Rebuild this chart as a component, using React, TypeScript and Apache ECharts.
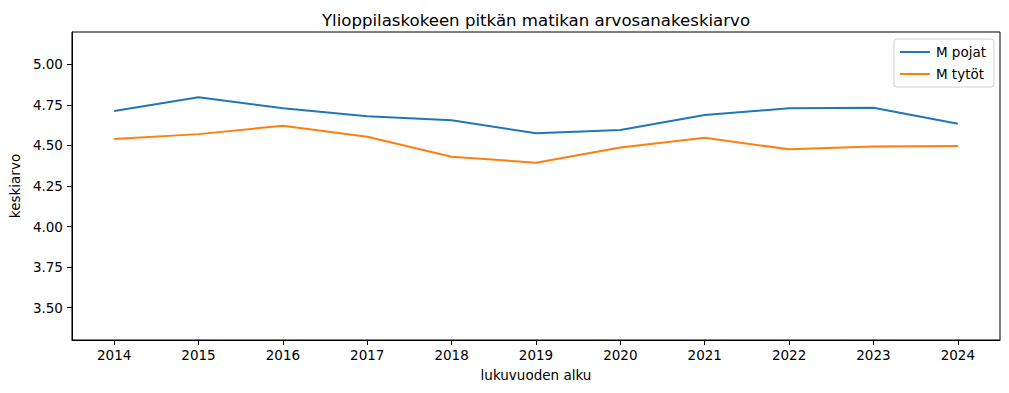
import React, { useEffect, useRef } from "react";
import * as echarts from "echarts";

const years = ["2014", "2015", "2016", "2017", "2018", "2019", "2020", "2021", "2022", "2023", "2024"];
const boys = [4.712, 4.797, 4.729, 4.681, 4.655, 4.575, 4.595, 4.688, 4.729, 4.733, 4.634];
const girls = [4.54, 4.57, 4.622, 4.554, 4.431, 4.394, 4.488, 4.548, 4.476, 4.493, 4.496];
const yTicks = [3.5, 3.75, 4.0, 4.25, 4.5, 4.75, 5.0];

const FONT = "DejaVu Sans";
const FS = 13.5;

export default function App() {
  const ref = useRef<HTMLDivElement>(null);
  useEffect(() => {
    const chart = echarts.init(ref.current!, null, { renderer: "svg" });
    chart.setOption({
      animation: false,
      backgroundColor: "#fff",
      textStyle: { fontFamily: FONT },
      title: {
        text: "Ylioppilaskokeen pitkän matikan arvosanakeskiarvo",
        left: 531,
        textAlign: "center",
        top: 7,
        textStyle: { fontFamily: FONT, fontSize: 16.6, fontWeight: "normal", color: "#000" },
      },
      legend: {
        orient: "vertical",
        right: 15,
        top: 39,
        padding: [6, 8, 6, 6],
        itemGap: 8,
        itemWidth: 30,
        itemHeight: 14,
        backgroundColor: "#fff",
        borderColor: "#d0d0d0",
        borderWidth: 1,
        borderRadius: 3,
        textStyle: { fontFamily: FONT, fontSize: FS, color: "#000", padding: [0, 0, 0, 1] },
        data: [
          { name: "M pojat", icon: "path://M0,0 L30,0 L30,2 L0,2 Z" },
          { name: "M tytöt", icon: "path://M0,0 L30,0 L30,2 L0,2 Z" },
        ],
      },
      grid: {
        left: 70,
        right: 9,
        top: 32,
        bottom: 53,
        show: true,
        borderColor: "#000",
        borderWidth: 1,
        backgroundColor: "transparent",
      },
      xAxis: {
        type: "category",
        data: years,
        boundaryGap: true,
        name: "lukuvuoden alku",
        nameLocation: "middle",
        nameGap: 28,
        nameTextStyle: { fontFamily: FONT, fontSize: FS, color: "#000" },
        axisLine: { show: true, lineStyle: { color: "#000", width: 1 } },
        axisTick: { show: true, alignWithLabel: true, length: 5, lineStyle: { color: "#000" } },
        axisLabel: { margin: 8, fontFamily: FONT, fontSize: FS, color: "#000" },
        splitLine: { show: false },
      },
      yAxis: {
        type: "value",
        min: 3.3,
        max: 5.2,
        name: "keskiarvo",
        nameLocation: "middle",
        nameGap: 48,
        nameTextStyle: { fontFamily: FONT, fontSize: FS, color: "#000" },
        axisLine: { show: true, lineStyle: { color: "#000", width: 1 } },
        axisTick: { show: true, length: 5, customValues: yTicks, lineStyle: { color: "#000" } },
        axisLabel: {
          margin: 9,
          fontFamily: FONT,
          fontSize: FS,
          color: "#000",
          customValues: yTicks,
          formatter: (v: number) => v.toFixed(2),
        },
        splitLine: { show: false },
      },
      series: [
        {
          name: "M pojat",
          type: "line",
          data: boys,
          symbol: "none",
          lineStyle: { color: "#1f77b4", width: 2 },
          itemStyle: { color: "#1f77b4" },
        },
        {
          name: "M tytöt",
          type: "line",
          data: girls,
          symbol: "none",
          lineStyle: { color: "#ff7f0e", width: 2 },
          itemStyle: { color: "#ff7f0e" },
        },
      ],
    });
    return () => chart.dispose();
  }, []);
  return (
    <div
      ref={ref}
      style={{ position: "fixed", left: 0, top: 0, width: 1009, height: 393 }}
    />
  );
}
